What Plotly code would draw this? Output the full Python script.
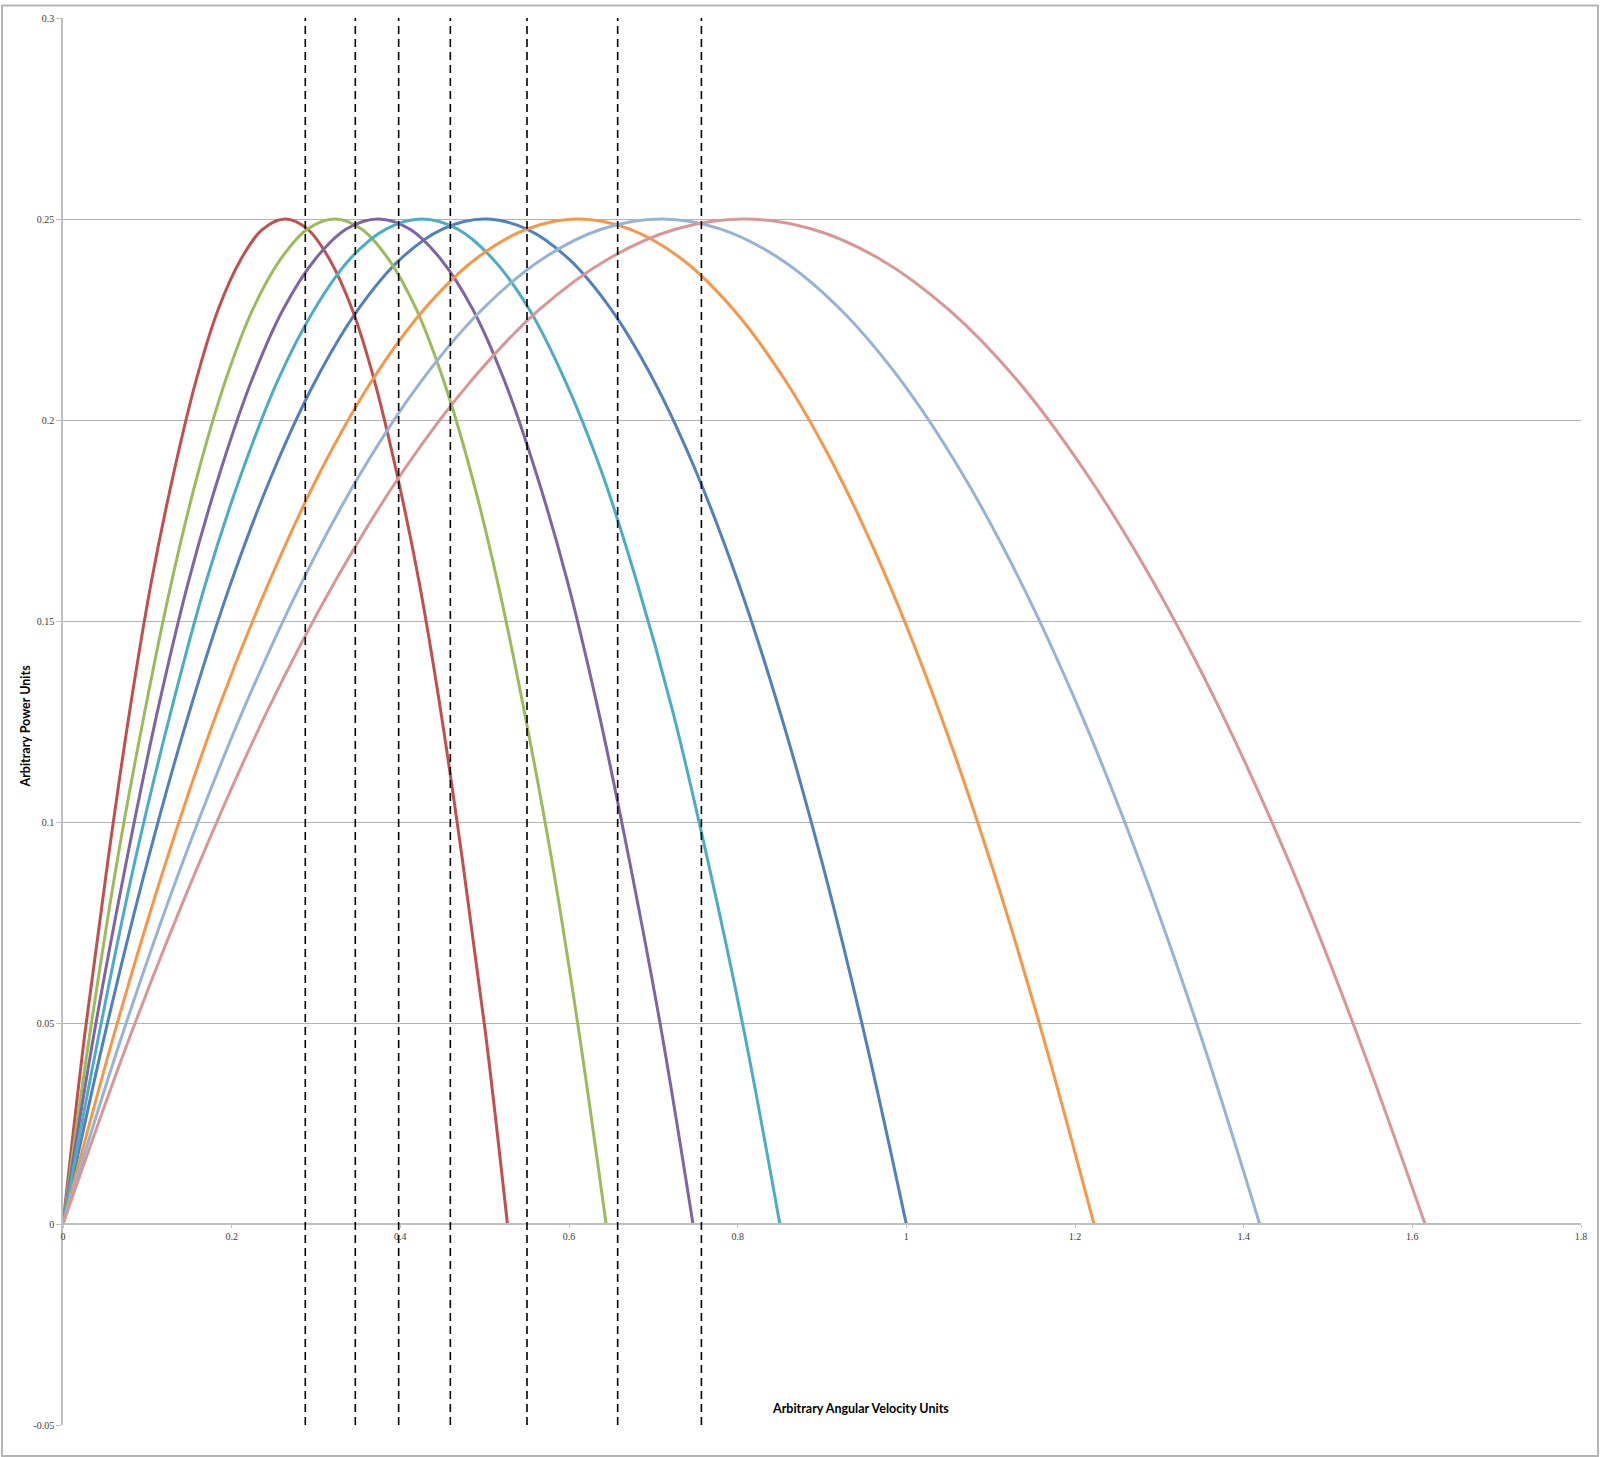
import plotly.graph_objects as go

# ---- data ----
power_y = [0, 0.0475, 0.09, 0.1275, 0.16, 0.1875, 0.21, 0.2275, 0.24, 0.2475, 0.25,
           0.2475, 0.24, 0.2275, 0.21, 0.1875, 0.16, 0.1275, 0.09, 0.0475, 0]

x_red = [0, 0.026, 0.053, 0.079, 0.105, 0.132, 0.158, 0.184, 0.211, 0.237, 0.264,
         0.290, 0.316, 0.343, 0.369, 0.395, 0.422, 0.448, 0.474, 0.501, 0.527]
x_green = [0, 0.032, 0.064, 0.097, 0.129, 0.161, 0.193, 0.225, 0.258, 0.290, 0.322,
           0.354, 0.386, 0.419, 0.451, 0.483, 0.515, 0.547, 0.580, 0.612, 0.644]
x_purple = [0, 0.037, 0.075, 0.112, 0.149, 0.187, 0.224, 0.261, 0.299, 0.336, 0.374,
            0.411, 0.448, 0.486, 0.523, 0.560, 0.598, 0.635, 0.672, 0.710, 0.747]
x_teal = [0, 0.043, 0.085, 0.128, 0.170, 0.213, 0.255, 0.298, 0.340, 0.383, 0.425,
          0.468, 0.510, 0.553, 0.595, 0.638, 0.680, 0.723, 0.765, 0.808, 0.850]
x_blue = [0, 0.05, 0.10, 0.15, 0.20, 0.25, 0.30, 0.35, 0.40, 0.45, 0.50,
          0.55, 0.60, 0.65, 0.70, 0.75, 0.80, 0.85, 0.90, 0.95, 1.00]
x_orange = [0, 0.061, 0.122, 0.183, 0.245, 0.306, 0.367, 0.428, 0.489, 0.550, 0.611,
            0.672, 0.734, 0.795, 0.856, 0.917, 0.978, 1.039, 1.100, 1.161, 1.2225]
x_lightblue = [0, 0.071, 0.142, 0.213, 0.284, 0.355, 0.426, 0.497, 0.568, 0.639, 0.710,
               0.780, 0.851, 0.922, 0.993, 1.064, 1.135, 1.206, 1.277, 1.348, 1.419]
x_pink = [0, 0.081, 0.162, 0.242, 0.323, 0.404, 0.485, 0.565, 0.646, 0.727, 0.808,
          0.888, 0.969, 1.050, 1.131, 1.211, 1.292, 1.373, 1.454, 1.534, 1.615]

crossover_x = [0.2873, 0.3466, 0.398, 0.4593, 0.5502, 0.6577, 0.757]

x_ticks = [0, 0.2, 0.4, 0.6, 0.8, 1, 1.2, 1.4, 1.6, 1.8]
x_tick_text = ["0", "0.2", "0.4", "0.6", "0.8", "1", "1.2", "1.4", "1.6", "1.8"]
y_ticks = [-0.05, 0, 0.05, 0.1, 0.15, 0.2, 0.25, 0.3]
y_tick_text = ["-0.05", "0", "0.05", "0.1", "0.15", "0.2", "0.25", "0.3"]

series = [
    (x_blue, "#4F81BD"),
    (x_red, "#C0504D"),
    (x_green, "#9BBB59"),
    (x_purple, "#8064A2"),
    (x_teal, "#4BACC6"),
    (x_orange, "#F79646"),
    (x_lightblue, "#95B3D7"),
    (x_pink, "#D99694"),
]

fig = go.Figure()
for xs, col in series:
    fig.add_trace(go.Scatter(
        x=xs, y=power_y, mode="lines",
        line=dict(color=col, width=3, shape="spline", smoothing=1.0, simplify=False),
        showlegend=False, hoverinfo="skip",
    ))

for cx in crossover_x:
    fig.add_shape(type="line", xref="x", yref="paper", x0=cx, x1=cx, y0=0, y1=1,
                  line=dict(color="black", width=1.6, dash="8px,5px"), layer="above")

W, H = 1600, 1457
ml, mr, mt, mb = 63, 19, 13, 32
pw, ph = W - ml - mr, H - mt - mb

# outer chart-area border
fig.add_shape(type="rect", xref="paper", yref="paper",
              x0=(2 - ml) / pw, x1=(1598 - ml) / pw,
              y0=(H - mb - 1456) / ph, y1=(H - mb - 0.5) / ph,
              line=dict(color="#b4b4b4", width=2), fillcolor="rgba(0,0,0,0)", layer="below")

tickfont = dict(family="Liberation Serif, DejaVu Serif, serif", size=10, color="#404040")

fig.update_layout(
    width=W, height=H,
    margin=dict(l=ml, r=mr, t=mt, b=mb, pad=0),
    paper_bgcolor="white", plot_bgcolor="white",
    xaxis=dict(range=[0, 1.8], tickvals=x_ticks, ticktext=x_tick_text,
               showgrid=False, zeroline=False,
               showline=True, linecolor="#bfbfbf", linewidth=1.5,
               ticks="outside", ticklen=3, tickcolor="#bfbfbf",
               anchor="free", position=0.05 / 0.35,
               tickfont=tickfont),
    yaxis=dict(range=[-0.05, 0.3], tickvals=y_ticks, ticktext=y_tick_text,
               showgrid=True, gridcolor="#b3b3b3", gridwidth=1,
               zeroline=False, showline=True, linecolor="#bfbfbf", linewidth=1.5,
               ticks="outside", ticklen=5, tickcolor="#bfbfbf",
               tickfont=tickfont),
    annotations=[
        dict(text="<b>Arbitrary Angular Velocity Units</b>", xref="paper", yref="paper",
             x=(860 - ml) / pw, y=(H - mb - 1408) / ph, showarrow=False,
             xanchor="center", yanchor="middle",
             font=dict(family="Lato, Open Sans, sans-serif", size=12.5, color="black")),
        dict(text="<b>Arbitrary Power Units</b>", xref="paper", yref="paper",
             x=(25 - ml) / pw, y=(H - mb - 724) / ph, showarrow=False, textangle=-90,
             xanchor="center", yanchor="middle",
             font=dict(family="Lato, Open Sans, sans-serif", size=12.5, color="black")),
    ],
)

fig.write_html("out.html", config={"displayModeBar": False},
               post_script="document.body.style.margin='0';document.body.style.overflow='hidden';")
